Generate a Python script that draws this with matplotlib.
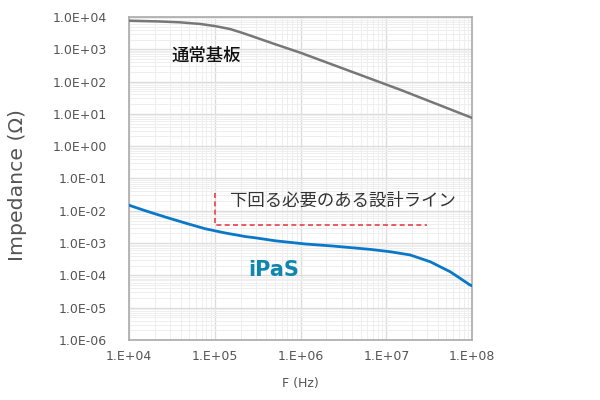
import matplotlib
matplotlib.use("Agg")
import matplotlib.pyplot as plt
from matplotlib.ticker import LogLocator, NullFormatter

plt.rcParams['font.family'] = ['DejaVu Sans', 'Noto Sans CJK JP']

# Conventional board impedance (gray)
freq_std = [1e4, 2.2e4, 3.9e4, 6.7e4, 1e5, 1.5e5, 2e5, 2.6e5, 5e5, 1e6, 3.7e6,
            1.45e7, 1e8]
z_std = [7700, 7300, 6850, 6100, 5250, 4250, 3350, 2650, 1450, 780, 215, 56, 7.5]

# iPaS impedance (blue)
freq_ipas = [1e4, 1.54e4, 2.63e4, 4.5e4, 7.7e4, 1.32e5, 2.25e5, 3e5, 5.05e5,
             1.13e6, 2.39e6, 6.46e6, 1.11e7, 1.89e7, 3.24e7, 5.53e7, 7.24e7,
             9.48e7, 1e8]
z_ipas = [0.0149, 0.0101, 0.00645, 0.0042, 0.00279, 0.00206, 0.0016, 0.00145,
          0.00118, 0.00094, 0.00081, 0.00064, 0.00054, 0.00043, 0.000265,
          0.00013, 8.1e-5, 5.0e-5, 4.8e-5]

# Design line (red dashed)
line_f = [1e5, 1e5, 3e7]
line_z = [0.035, 0.0037, 0.0037]

y_ticks = [1e4, 1e3, 1e2, 1e1, 1e0, 1e-1, 1e-2, 1e-3, 1e-4, 1e-5, 1e-6]
y_labels = ["1.0E+04", "1.0E+03", "1.0E+02", "1.0E+01", "1.0E+00", "1.0E-01",
            "1.0E-02", "1.0E-03", "1.0E-04", "1.0E-05", "1.0E-06"]
x_ticks = [1e4, 1e5, 1e6, 1e7, 1e8]
x_labels = ["1.E+04", "1.E+05", "1.E+06", "1.E+07", "1.E+08"]

fig = plt.figure(figsize=(6, 4), dpi=100)
ax = fig.add_axes([0.215, 0.15, 0.572, 0.8075])
ax.set_xscale('log')
ax.set_yscale('log')
ax.set_xlim(1e4, 1e8)
ax.set_ylim(1e-6, 1e4)

ax.plot(freq_std, z_std, color='#777777', lw=1.8, zorder=3,
        solid_joinstyle='round')
ax.plot(freq_ipas, z_ipas, color='#0a78c8', lw=2.0, zorder=3,
        solid_joinstyle='round')
ax.plot(line_f, line_z, color='#e8404a', lw=1.2, ls=(0, (3, 2)), zorder=3)

ax.set_yticks(y_ticks)
ax.set_yticklabels(y_labels)
ax.set_xticks(x_ticks)
ax.set_xticklabels(x_labels)
ax.xaxis.set_minor_locator(LogLocator(base=10, subs=range(2, 10), numticks=20))
ax.yaxis.set_minor_locator(LogLocator(base=10, subs=range(2, 10), numticks=20))
ax.xaxis.set_minor_formatter(NullFormatter())
ax.yaxis.set_minor_formatter(NullFormatter())

ax.grid(which='major', color='#dddddd', lw=1.0)
ax.grid(which='minor', color='#eeeeee', lw=0.7)
ax.set_axisbelow(True)

ax.tick_params(which='both', length=0)
ax.tick_params(axis='y', pad=16, labelsize=9, labelcolor='#555555')
ax.tick_params(axis='x', pad=7, labelsize=9, labelcolor='#555555')

for s in ax.spines.values():
    s.set_color('#aaaaaa')
    s.set_linewidth(1.2)

fig.text(18 / 600, 1 - 185 / 400, 'Impedance (Ω)', fontsize=14.7,
         color='#555555', rotation=90, ha='center', va='center')
ax.set_xlabel('F (Hz)', fontsize=9, color='#555555', labelpad=10)

ax.text(3.1e4, 6.2e2, '通常基板', fontsize=12.5, color='#111111',
        family=['Noto Sans CJK JP'], fontweight='medium', va='center', ha='left')
ax.text(1.5e5, 2.1e-2, '下回る必要のある設計ライン', fontsize=12.5, color='#333333',
        family=['Noto Sans CJK JP'], va='center', ha='left')
ax.text(4.9e5, 1.5e-4, 'iPaS', fontsize=15, color='#0f86b0',
        fontweight='bold', va='center', ha='center')

fig.savefig('out.png', dpi=100)
